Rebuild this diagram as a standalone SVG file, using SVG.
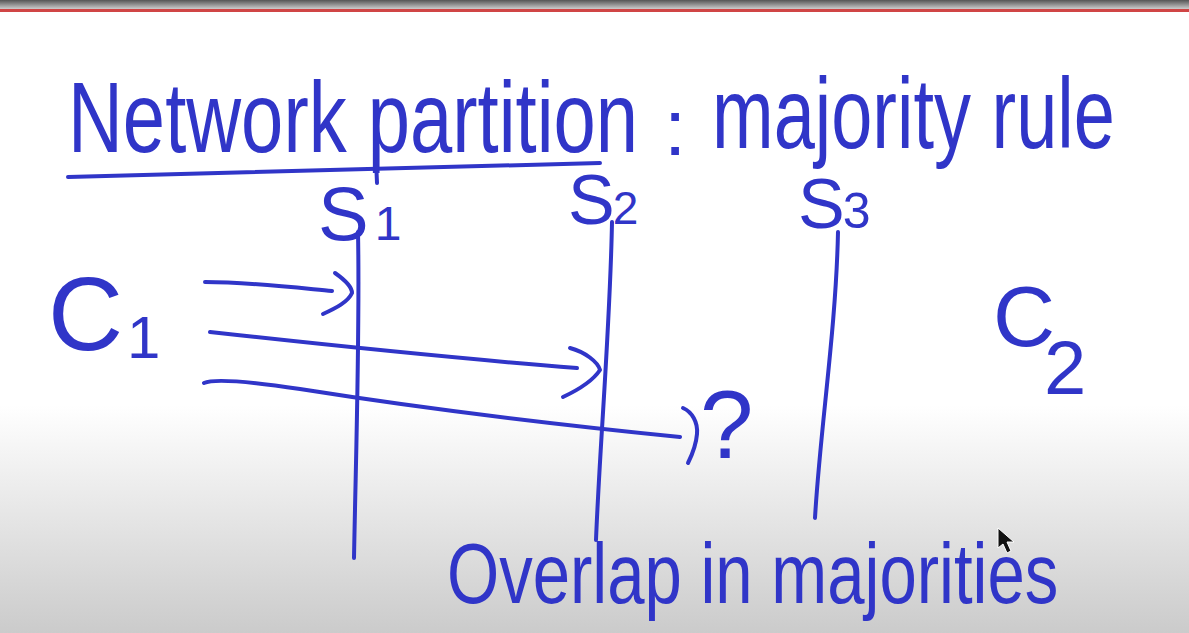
<svg xmlns="http://www.w3.org/2000/svg" width="1189" height="633" viewBox="0 0 1189 633">
<defs>
<linearGradient id="bg" x1="0" y1="0" x2="0" y2="1">
<stop offset="0" stop-color="#ffffff"/>
<stop offset="0.64" stop-color="#ffffff"/>
<stop offset="1" stop-color="#cbcbcb"/>
</linearGradient>
<linearGradient id="bar" x1="0" y1="0" x2="0" y2="1">
<stop offset="0" stop-color="#555555"/>
<stop offset="1" stop-color="#cccccc"/>
</linearGradient>
<style>
.ink{fill:none;stroke:#3035c8;stroke-width:4;stroke-linecap:round;stroke-linejoin:round}
.t{fill:#3035c8;font-family:"Liberation Sans",Arial,sans-serif}
</style>
</defs>
<rect width="1189" height="633" fill="url(#bg)"/>
<rect width="1189" height="9" fill="url(#bar)"/>
<rect y="9" width="1189" height="3" fill="#d04545"/>

<g id="title">
<text class="t" transform="translate(68,152) scale(0.76,1)" font-size="100">Network partition</text>
<text class="t" x="664" y="155" font-size="80">:</text>
<text class="t" transform="translate(712,148) scale(0.74,1)" font-size="100">majority rule</text>
<path class="ink" d="M68,177 L600,163"/>
</g>

<g id="s1">
<text class="t" x="318" y="240" font-size="76">S<tspan font-size="48" dx="6">1</tspan></text>
</g>
<g id="s2">
<text class="t" x="568" y="224" font-size="70">S<tspan font-size="46" dx="-2">2</tspan></text>
</g>
<g id="s3">
<text class="t" x="798" y="228" font-size="70">S<tspan font-size="50" dx="-2">3</tspan></text>
</g>
<g id="c1">
<text class="t" x="48" y="350" font-size="104">C<tspan font-size="60" dx="4" dy="8">1</tspan></text>
</g>
<g id="c2">
<text class="t" x="993" y="346" font-size="86">C</text>
<text class="t" x="1044" y="394" font-size="76">2</text>
</g>
<g id="question">
<text class="t" x="700" y="458" font-size="96">?</text>
</g>
<g id="overlap">
<text class="t" transform="translate(447,603) scale(0.78,1)" font-size="86">Overlap in majorities</text>
</g>

<g id="connectors">
<path class="ink" d="M376,160 L377,183"/>
<path class="ink" d="M358,232 C360,330 356,450 354,558"/>
<path class="ink" d="M612,222 C610,330 600,440 596,540"/>
<path class="ink" d="M838,232 C836,330 820,430 815,518"/>
<path class="ink" d="M205,282 C250,282 300,288 332,291"/>
<path class="ink" d="M335,273 C345,280 352,287 352,293 C348,302 336,308 323,314"/>
<path class="ink" d="M210,332 C300,342 450,358 577,368"/>
<path class="ink" d="M570,348 C585,352 598,362 600,370 C592,382 578,390 563,397"/>
<path class="ink" d="M204,383 C215,378 260,383 300,389 C420,408 560,425 680,437"/>
<path class="ink" d="M683,408 C692,412 698,422 697,434 C696,446 692,455 688,463"/>
</g>

<g id="cursor">
<path d="M998,528 L998,548 L1003,544 L1007,553 L1011,551 L1007,542 L1014,542 Z" fill="#111" stroke="#fff" stroke-width="1"/>
</g>
</svg>
